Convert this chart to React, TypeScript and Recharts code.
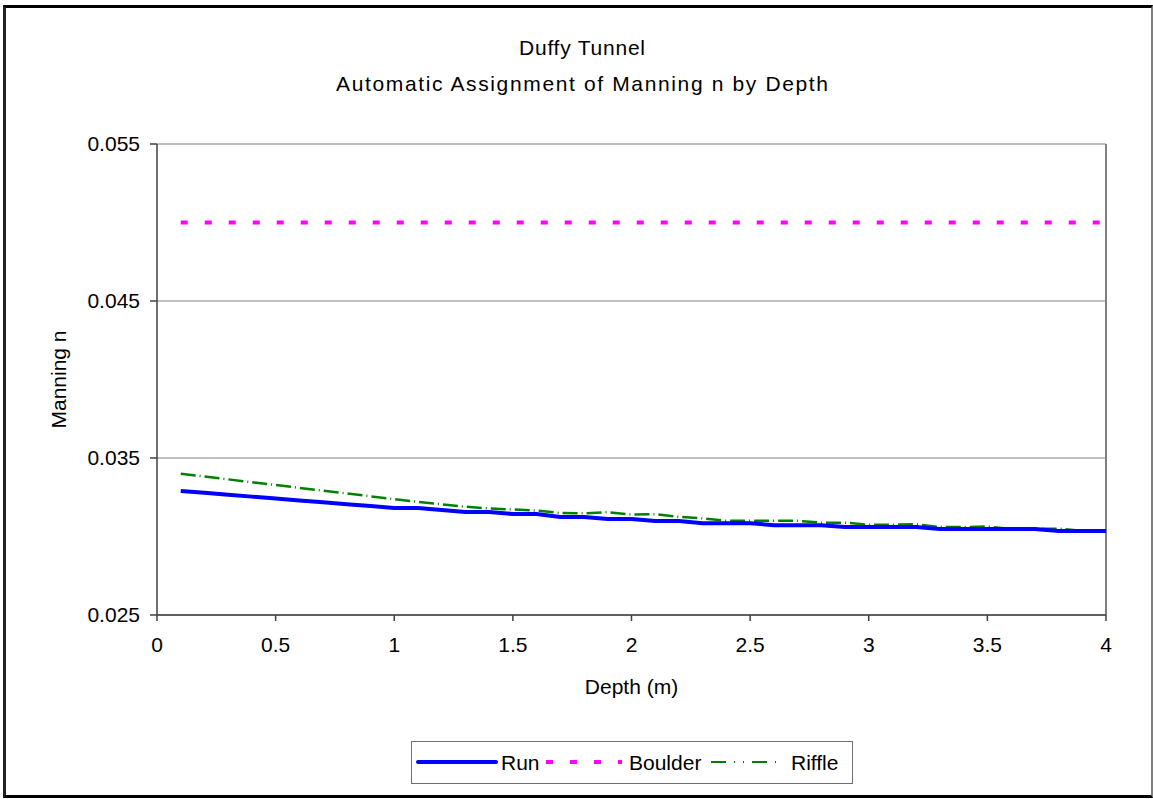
import React from "react";
import { LineChart, Line, XAxis, YAxis, CartesianGrid, ReferenceLine } from "recharts";

const depths = [0.1,0.2,0.3,0.4,0.5,0.6,0.7,0.8,0.9,1.0,1.1,1.2,1.3,1.4,1.5,1.6,1.7,1.8,1.9,2.0,2.1,2.2,2.3,2.4,2.5,2.6,2.7,2.8,2.9,3.0,3.1,3.2,3.3,3.4,3.5,3.6,3.7,3.8,3.9,4.0];
const runN = [0.0329,0.03278,0.03266,0.03254,0.03242,0.0323,0.03218,0.03206,0.03194,0.03182,0.03182,0.03169,0.03156,0.03156,0.03143,0.03143,0.03124,0.03124,0.03111,0.03111,0.03098,0.03098,0.03085,0.03085,0.03085,0.03072,0.03072,0.03072,0.0306,0.0306,0.0306,0.0306,0.03048,0.03048,0.03048,0.03048,0.03048,0.03035,0.03035,0.03035];
const boulderN = [0.05,0.05,0.05,0.05,0.05,0.05,0.05,0.05,0.05,0.05,0.05,0.05,0.05,0.05,0.05,0.05,0.05,0.05,0.05,0.05,0.05,0.05,0.05,0.05,0.05,0.05,0.05,0.05,0.05,0.05,0.05,0.05,0.05,0.05,0.05,0.05,0.05,0.05,0.05,0.05];
const riffleN = [0.034,0.03382,0.03364,0.03346,0.03328,0.0331,0.03292,0.03274,0.03256,0.03238,0.0322,0.03205,0.0319,0.03178,0.03172,0.03165,0.0315,0.03148,0.03155,0.0314,0.03142,0.03125,0.03115,0.031,0.031,0.031,0.031,0.03088,0.03088,0.03075,0.03075,0.03078,0.0306,0.0306,0.03064,0.03048,0.03048,0.0305,0.03035,0.03035];
const xTicks = [0,0.5,1,1.5,2,2.5,3,3.5,4];
const yTicks = [0.025,0.035,0.045,0.055];
const seriesNames = ["Run","Boulder","Riffle"];
const titleLines = ["Duffy Tunnel","Automatic Assignment of Manning n by Depth"];

const data = depths.map((d, i) => ({ depth: d, run: runN[i], boulder: boulderN[i], riffle: riffleN[i] }));

const FONT = "'Liberation Sans', Arial, sans-serif";
const FS = 21;
const RUN_C = "#0000FF";
const BOULDER_C = "#FF00FF";
const RIFFLE_C = "#008000";

export default function App() {
  return (
    <div style={{ position: "absolute", left: 0, top: 0, width: 1153, height: 799, background: "#fff", fontFamily: FONT }}>
      <div style={{ position: "absolute", left: 3, top: 5, width: 1150, height: 793, boxSizing: "border-box", borderTop: "3px solid #000", borderLeft: "3px solid #222", borderBottom: "3px solid #000", borderRight: "2px solid #808080" }} />
      <svg style={{ position: "absolute", left: 0, top: 0 }} width={1153} height={120}>
        <text x={582} y={55} textAnchor="middle" fontSize={FS} fontFamily={FONT} fill="#000" textLength={126} lengthAdjust="spacing">{titleLines[0]}</text>
        <text x={582} y={91} textAnchor="middle" fontSize={FS} fontFamily={FONT} fill="#000" textLength={492} lengthAdjust="spacing">{titleLines[1]}</text>
      </svg>
      <div style={{ position: "absolute", left: 0, top: 0 }}>
        <LineChart width={1153} height={799} data={data} margin={{ top: 144, right: 47, bottom: 94, left: 0 }}>
          <CartesianGrid horizontal={true} vertical={false} stroke="#808080" strokeWidth={1.2} />
          <ReferenceLine x={4} stroke="#808080" strokeWidth={2} ifOverflow="visible" />
          <XAxis
            dataKey="depth"
            type="number"
            domain={[0, 4]}
            ticks={xTicks}
            tickFormatter={(v: number) => String(v)}
            height={90}
            tickSize={6}
            tickMargin={16}
            stroke="#404040"
            strokeWidth={1.5}
            tick={{ fill: "#000", fontSize: FS, fontFamily: FONT }}
            label={{ value: "Depth (m)", position: "insideTop", offset: 64, fill: "#000", fontSize: FS, fontFamily: FONT }}
          />
          <YAxis
            type="number"
            domain={[0.025, 0.055]}
            ticks={yTicks}
            tickFormatter={(v: number) => v.toFixed(3)}
            width={157}
            tickSize={7}
            tickMargin={10}
            stroke="#404040"
            strokeWidth={1.5}
            allowDataOverflow
            tick={{ fill: "#000", fontSize: FS, fontFamily: FONT }}
            label={({ viewBox }: any) => {
              const cy = viewBox.y + viewBox.height / 2;
              return (
                <text x={66} y={cy} transform={`rotate(-90, 66, ${cy})`} textAnchor="middle" fontSize={FS} fontFamily={FONT} fill="#000">Manning n</text>
              );
            }}
          />
          <Line type="linear" dataKey="boulder" name={seriesNames[1]} stroke={BOULDER_C} strokeWidth={4} strokeDasharray="7 17" dot={false} isAnimationActive={false} />
          <Line type="linear" dataKey="riffle" name={seriesNames[2]} stroke={RIFFLE_C} strokeWidth={2.5} strokeDasharray="15 4 1 4" dot={false} isAnimationActive={false} />
          <Line type="linear" dataKey="run" name={seriesNames[0]} stroke={RUN_C} strokeWidth={4} dot={false} isAnimationActive={false} />
        </LineChart>
      </div>
      <div style={{ position: "absolute", left: 411, top: 741, width: 442, height: 43, boxSizing: "border-box", border: "1.5px solid #707070", background: "#fff" }}>
        <svg width={440} height={40} style={{ position: "absolute", left: 0, top: 0 }}>
          <line x1={6} y1={20} x2={84} y2={20} stroke={RUN_C} strokeWidth={4} strokeLinecap="round" />
          <text x={89} y={28} fontSize={FS} fontFamily={FONT} fill="#000">{seriesNames[0]}</text>
          <line x1={134} y1={20} x2={210} y2={20} stroke={BOULDER_C} strokeWidth={4} strokeDasharray="7 17" />
          <text x={217} y={28} fontSize={FS} fontFamily={FONT} fill="#000">{seriesNames[1]}</text>
          <line x1={299} y1={20} x2={370} y2={20} stroke={RIFFLE_C} strokeWidth={2} strokeDasharray="15 8 1 8 1 8" />
          <text x={379} y={28} fontSize={FS} fontFamily={FONT} fill="#000">{seriesNames[2]}</text>
        </svg>
      </div>
    </div>
  );
}
